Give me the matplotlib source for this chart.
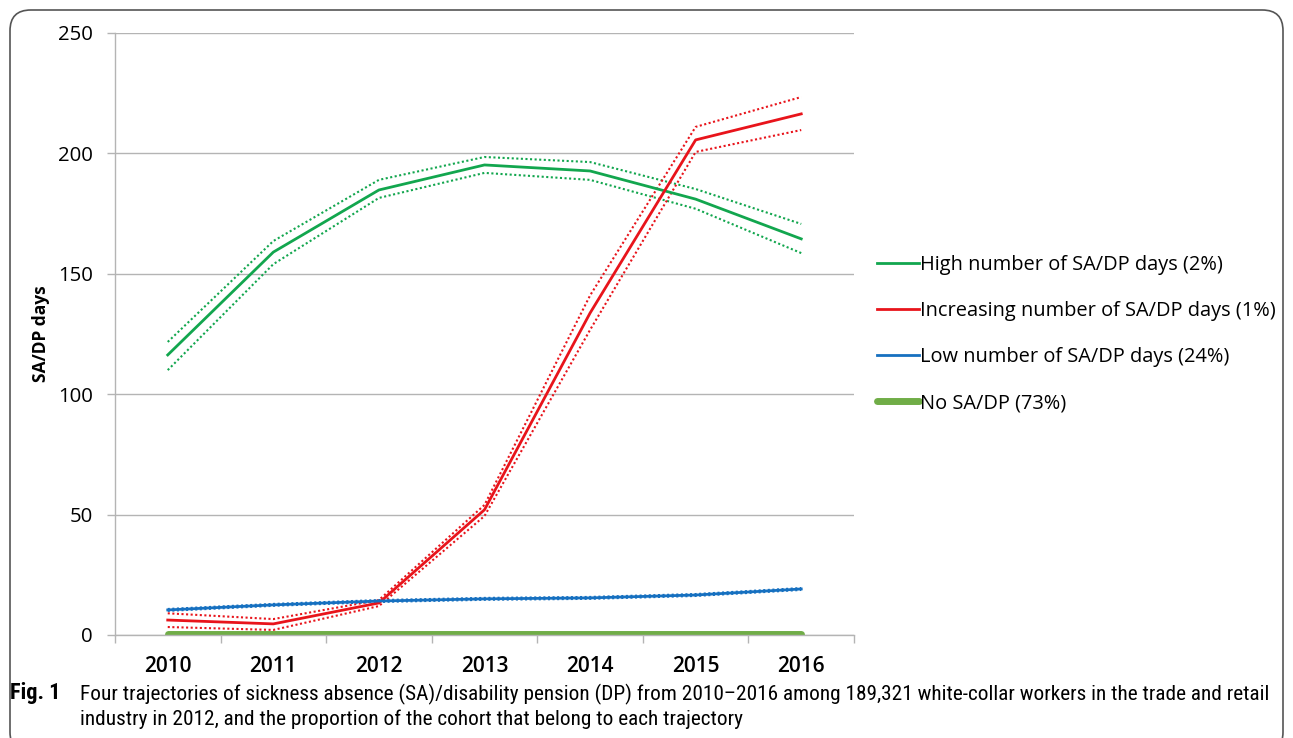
import numpy as np
import matplotlib.pyplot as plt
from matplotlib.patches import FancyBboxPatch

# Jahre und Trajektorien (Mittelwert + Konfidenzgrenzen)
years = ["2010", "2011", "2012", "2013", "2014", "2015", "2016"]

high_mean = [116.3, 159.0, 184.8, 195.2, 192.7, 181.0, 164.5]
high_upper = [121.7, 163.6, 189.0, 198.5, 196.4, 185.2, 170.7]
high_lower = [110.0, 154.0, 181.5, 191.9, 189.0, 177.0, 158.6]

incr_mean = [6.2, 4.6, 13.3, 52.0, 133.7, 205.6, 216.4]
incr_upper = [9.0, 6.6, 14.5, 54.0, 141.0, 211.0, 223.4]
incr_lower = [3.3, 2.1, 12.0, 49.4, 126.7, 200.6, 209.7]

low_mean = [10.4, 12.5, 14.1, 15.0, 15.4, 16.6, 19.1]
low_upper = [10.8, 12.9, 14.5, 15.4, 15.8, 17.0, 19.5]
low_lower = [10.0, 12.1, 13.7, 14.6, 15.0, 16.2, 18.7]

no_mean = [0.2, 0.2, 0.2, 0.2, 0.2, 0.2, 0.2]

labels = ["High number of SA/DP days (2%)",
          "Increasing number of SA/DP days (1%)",
          "Low number of SA/DP days (24%)",
          "No SA/DP (73%)"]

caption = ("Four trajectories of sickness absence (SA)/disability pension (DP) from 2010\u20132016 "
           "among 189,321 white-collar workers in the trade and retail\n"
           "industry in 2012, and the proportion of the cohort that belong to each trajectory")

GREEN = "#12A64E"
RED = "#E8141B"
BLUE = "#1670C0"
LGREEN = "#70AD47"
GRID = "#B4B4B4"
DOT = (0, (1, 1.2))

plt.rcParams["font.family"] = ["Open Sans", "DejaVu Sans"]

fig = plt.figure(figsize=(12.93, 7.38), dpi=100)
ax = fig.add_axes([0.0889, 0.1396, 0.5716, 0.8157])

x = np.arange(len(years))

# Konfidenzgrenzen gepunktet
ax.plot(x, high_upper, color=GREEN, lw=1.5, ls=DOT)
ax.plot(x, high_lower, color=GREEN, lw=1.5, ls=DOT)
ax.plot(x, incr_upper, color=RED, lw=1.5, ls=DOT)
ax.plot(x, incr_lower, color=RED, lw=1.5, ls=DOT)
ax.plot(x, low_upper, color=BLUE, lw=1.5, ls=DOT)
ax.plot(x, low_lower, color=BLUE, lw=1.5, ls=DOT)

# Mittelwerte
ax.plot(x, high_mean, color=GREEN, lw=2.0, label=labels[0])
ax.plot(x, incr_mean, color=RED, lw=2.0, label=labels[1])
ax.plot(x, low_mean, color=BLUE, lw=2.0, label=labels[2])
ax.plot(x, no_mean, color=LGREEN, lw=5, solid_capstyle="round", label=labels[3])

ax.set_xlim(-0.5, len(years) - 0.5)
ax.set_ylim(0, 250)
ax.set_yticks([0, 50, 100, 150, 200, 250])
ax.set_xticks(x)
ax.set_xticklabels(years, fontsize=15, fontweight="semibold")
ax.set_xticks(np.arange(-0.5, len(years)), minor=True)
ax.tick_params(axis="x", which="major", length=0, pad=15)
ax.tick_params(axis="x", which="minor", length=6, color=GRID, width=1)
ax.tick_params(axis="y", length=6, color=GRID, width=1, labelsize=14.7, pad=10)

ax.grid(axis="y", color=GRID, lw=1)
ax.set_axisbelow(True)
for side in ["top", "right"]:
    ax.spines[side].set_visible(False)
for side in ["left", "bottom"]:
    ax.spines[side].set_color(GRID)
    ax.spines[side].set_linewidth(1)

ax.set_ylabel("SA/DP days", fontsize=12.5, fontweight="bold", labelpad=6)

leg = fig.legend(loc="upper left", bbox_to_anchor=(0.672, 0.665), frameon=False,
                 fontsize=14.4, handlelength=2.1, handletextpad=0.05,
                 labelspacing=1.3, borderaxespad=0)

# Rahmen und Bildunterschrift
frame = FancyBboxPatch((10 / 1293, -0.02), 1273 / 1293, 1.0 - 10 / 738 + 0.02,
                       boxstyle="round,pad=0,rounding_size=0.016",
                       transform=fig.transFigure, fill=False,
                       edgecolor="#555555", lw=1.2, mutation_aspect=1293 / 738)
fig.patches.append(frame)

cap_font = ["Roboto Condensed", "Roboto", "DejaVu Sans"]
fig.text(10 / 1293, 1 - 693 / 738, "Fig. 1", fontsize=16, fontweight="bold",
         va="center", ha="left", family=cap_font)
fig.text(80 / 1293, 1 - 706.5 / 738, caption, fontsize=15.3, va="center", ha="left",
         linespacing=1.32, family=cap_font)

fig.savefig("out.png", dpi=100)
